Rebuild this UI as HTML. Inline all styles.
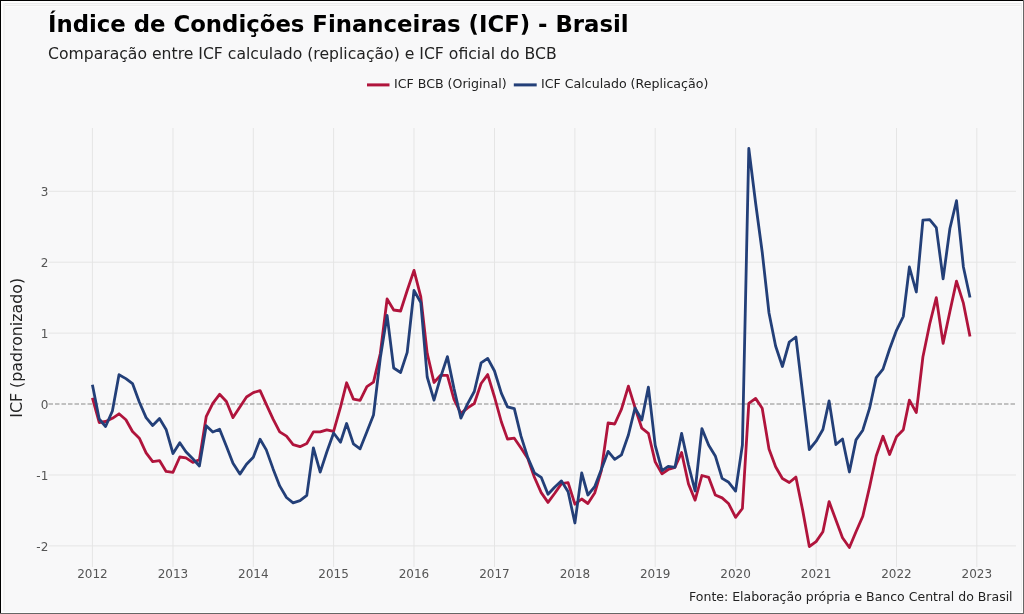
<!DOCTYPE html>
<html><head><meta charset="utf-8"><style>
html,body{margin:0;padding:0;background:#f8f8f9;}
svg{display:block;will-change:transform;}
text{font-family:"DejaVu Sans","Liberation Sans",sans-serif;}
</style></head><body>
<svg width="1024" height="614" viewBox="0 0 1024 614">
<rect x="0" y="0" width="1024" height="614" fill="#f8f8f9"/>
<g stroke="#e5e5e5" stroke-width="1" fill="none">
<line x1="48.5" x2="1016" y1="545.9" y2="545.9"/>
<line x1="48.5" x2="1016" y1="475.0" y2="475.0"/>
<line x1="48.5" x2="1016" y1="333.1" y2="333.1"/>
<line x1="48.5" x2="1016" y1="262.2" y2="262.2"/>
<line x1="48.5" x2="1016" y1="191.3" y2="191.3"/>
<line x1="92.4" x2="92.4" y1="128" y2="567"/>
<line x1="173.0" x2="173.0" y1="128" y2="567"/>
<line x1="253.3" x2="253.3" y1="128" y2="567"/>
<line x1="333.6" x2="333.6" y1="128" y2="567"/>
<line x1="414.0" x2="414.0" y1="128" y2="567"/>
<line x1="494.5" x2="494.5" y1="128" y2="567"/>
<line x1="574.9" x2="574.9" y1="128" y2="567"/>
<line x1="655.2" x2="655.2" y1="128" y2="567"/>
<line x1="735.6" x2="735.6" y1="128" y2="567"/>
<line x1="816.1" x2="816.1" y1="128" y2="567"/>
<line x1="896.5" x2="896.5" y1="128" y2="567"/>
<line x1="976.8" x2="976.8" y1="128" y2="567"/>
</g>
<line x1="48.5" x2="1016" y1="404.05" y2="404.05" stroke="#8a8a8a" stroke-width="1.1" stroke-dasharray="4.5,2"/>
<g font-size="12" fill="#555">
<text x="48.3" y="550.8" text-anchor="end">-2</text>
<text x="48.3" y="479.9" text-anchor="end">-1</text>
<text x="48.3" y="408.9" text-anchor="end">0</text>
<text x="48.3" y="338.0" text-anchor="end">1</text>
<text x="48.3" y="267.1" text-anchor="end">2</text>
<text x="48.3" y="196.2" text-anchor="end">3</text>
<text x="92.4" y="578" text-anchor="middle">2012</text>
<text x="173.0" y="578" text-anchor="middle">2013</text>
<text x="253.3" y="578" text-anchor="middle">2014</text>
<text x="333.6" y="578" text-anchor="middle">2015</text>
<text x="414.0" y="578" text-anchor="middle">2016</text>
<text x="494.5" y="578" text-anchor="middle">2017</text>
<text x="574.9" y="578" text-anchor="middle">2018</text>
<text x="655.2" y="578" text-anchor="middle">2019</text>
<text x="735.6" y="578" text-anchor="middle">2020</text>
<text x="816.1" y="578" text-anchor="middle">2021</text>
<text x="896.5" y="578" text-anchor="middle">2022</text>
<text x="976.8" y="578" text-anchor="middle">2023</text>
</g>
<text transform="translate(21.8,347.8) rotate(-90)" text-anchor="middle" font-size="15.8" fill="#222">ICF (padronizado)</text>
<text x="48" y="31.7" font-size="22.8" font-weight="bold" fill="#000">Índice de Condições Financeiras (ICF) - Brasil</text>
<text x="48" y="58.7" font-size="15.65" fill="#222">Comparação entre ICF calculado (replicação) e ICF oficial do BCB</text>
<line x1="367" x2="389.5" y1="84.9" y2="84.9" stroke="#b0143c" stroke-width="3"/>
<text x="394" y="88.3" font-size="12.6" fill="#222">ICF BCB (Original)</text>
<line x1="513.8" x2="536.7" y1="84.9" y2="84.9" stroke="#233f78" stroke-width="3"/>
<text x="541" y="88.3" font-size="12.6" fill="#222">ICF Calculado (Replicação)</text>
<polyline points="92.4,397.8 99.2,422.5 105.6,421.5 112.4,418.3 119.0,413.8 125.9,419.7 132.5,431.5 139.3,438.2 146.1,452.8 152.7,461.6 159.5,460.6 166.1,471.4 173.0,472.3 179.8,457.0 185.9,457.9 192.8,462.4 199.4,459.7 206.2,416.7 212.8,403.3 219.6,394.3 226.4,401.5 233.0,417.6 239.9,406.9 246.5,397.0 253.3,392.6 260.1,390.6 266.3,404.3 273.1,419.2 279.7,431.9 286.5,436.1 293.1,444.6 300.0,446.7 306.8,443.5 313.4,431.9 320.2,431.9 326.8,429.8 333.6,431.4 340.5,407.2 346.6,382.8 353.4,399.1 360.1,400.4 366.9,386.6 373.5,382.1 380.3,353.5 387.1,299.0 393.7,310.0 400.6,311.0 407.2,290.5 414.0,270.4 420.8,296.8 427.2,353.4 434.0,382.5 440.6,375.3 447.4,375.3 454.0,399.5 460.9,413.4 467.7,407.8 474.3,403.5 481.1,383.5 487.7,374.6 494.5,397.0 501.4,422.0 507.5,439.1 514.3,438.2 521.0,448.0 527.8,458.5 534.4,477.3 541.2,492.6 548.0,502.4 554.6,493.5 561.5,483.6 568.1,482.7 574.9,504.2 581.7,499.0 587.9,503.5 594.7,493.0 601.3,470.8 608.1,422.9 614.7,424.0 621.5,409.2 628.4,386.2 635.0,407.5 641.8,428.2 648.4,433.3 655.2,461.9 662.0,473.9 668.2,469.5 675.0,467.3 681.6,452.5 688.5,484.0 695.1,500.1 701.9,475.5 708.7,477.4 715.3,495.0 722.1,497.9 728.7,503.8 735.6,517.4 742.4,508.5 748.8,403.3 755.6,398.4 762.2,408.2 769.0,448.9 775.6,466.8 782.4,478.5 789.3,482.5 795.9,477.1 802.7,510.4 809.3,546.5 816.1,541.6 822.9,531.8 829.1,501.6 835.9,520.1 842.5,537.7 849.4,547.5 856.0,531.8 862.8,516.2 869.6,486.9 876.2,456.0 883.0,436.3 889.6,454.5 896.5,436.8 903.3,429.7 909.4,400.1 916.3,412.6 922.9,357.0 929.7,324.0 936.3,297.7 943.1,343.4 949.9,311.5 956.5,281.1 963.4,303.2 970.0,336.4" fill="none" stroke="#b0143c" stroke-width="2.8" stroke-linejoin="round"/>
<polyline points="92.4,384.7 99.2,419.0 105.6,426.5 112.4,411.0 119.0,374.7 125.9,378.6 132.5,383.6 139.3,402.0 146.1,417.6 152.7,425.5 159.5,418.6 166.1,429.4 173.0,453.5 179.8,442.7 185.9,451.7 192.8,458.8 199.4,466.0 206.2,425.7 212.8,432.0 219.6,429.3 226.4,446.3 233.0,463.3 239.9,474.1 246.5,464.2 253.3,457.2 260.1,439.3 266.3,449.9 273.1,468.9 279.7,485.9 286.5,497.5 293.1,502.8 300.0,500.7 306.8,495.4 313.4,447.8 320.2,472.1 326.8,452.0 333.6,433.0 340.5,442.2 346.6,423.5 353.4,443.9 360.1,448.8 366.9,431.7 373.5,415.0 380.3,358.0 387.1,315.4 393.7,368.0 400.6,372.5 407.2,352.4 414.0,290.5 420.8,302.5 427.2,377.0 434.0,400.2 440.6,377.2 447.4,356.6 454.0,388.6 460.9,418.2 467.7,403.7 474.3,391.5 481.1,362.9 487.7,358.4 494.5,371.0 501.4,393.4 507.5,406.8 514.3,408.6 521.0,436.2 527.8,457.6 534.4,472.8 541.2,477.3 548.0,494.3 554.6,487.2 561.5,480.9 568.1,491.7 574.9,523.0 581.7,473.0 587.9,495.0 594.7,486.7 601.3,469.6 608.1,451.4 614.7,459.4 621.5,454.8 628.4,435.0 635.0,408.0 641.8,420.0 648.4,387.1 655.2,445.4 662.0,470.6 668.2,466.3 675.0,467.3 681.6,433.4 688.5,465.0 695.1,491.0 701.9,428.6 708.7,445.2 715.3,455.9 722.1,478.4 728.7,482.3 735.6,491.1 742.4,445.0 748.8,148.5 755.6,203.0 762.2,252.0 769.0,313.0 775.6,346.0 782.4,366.5 789.3,342.0 795.9,337.0 802.7,394.0 809.3,449.5 816.1,441.2 822.9,429.5 829.1,400.9 835.9,444.5 842.5,439.0 849.4,472.0 856.0,439.9 862.8,430.2 869.6,408.2 876.2,377.6 883.0,369.1 889.6,349.0 896.5,330.3 903.3,316.5 909.4,267.0 916.3,292.0 922.9,220.2 929.7,219.6 936.3,227.6 943.1,278.9 949.9,228.5 956.5,200.7 963.4,267.0 970.0,297.5" fill="none" stroke="#233f78" stroke-width="2.8" stroke-linejoin="round"/>
<text x="1012.6" y="600.8" font-size="12.5" text-anchor="end" fill="#222">Fonte: Elaboração própria e Banco Central do Brasil</text>
<rect x="0" y="1" width="1024" height="2" fill="#fdfdfd"/>
<rect x="0" y="3" width="1024" height="1" fill="#ebebeb"/>
<rect x="0" y="5" width="1024" height="1" fill="#ededed"/>
<rect x="0" y="6" width="1024" height="1" fill="#fcfcfc"/>
<rect x="1" y="0" width="2" height="614" fill="#fdfdfd"/>
<rect x="3" y="3" width="2" height="608" fill="#f3f3f3"/>
<rect x="1022" y="0" width="1" height="614" fill="#fdfdfd"/>
<rect x="1021" y="3" width="1" height="608" fill="#efefef"/>
<rect x="0" y="612" width="1024" height="1" fill="#fdfdfd"/>
<line x1="0" y1="0.5" x2="1024" y2="0.5" stroke="#000" stroke-width="1"/>
<line x1="0.5" y1="0" x2="0.5" y2="614" stroke="#000" stroke-width="1"/>
<line x1="1023.5" y1="0" x2="1023.5" y2="614" stroke="#666" stroke-width="1"/>
<line x1="0" y1="613.5" x2="1024" y2="613.5" stroke="#666" stroke-width="1"/>
</svg>
</body></html>
